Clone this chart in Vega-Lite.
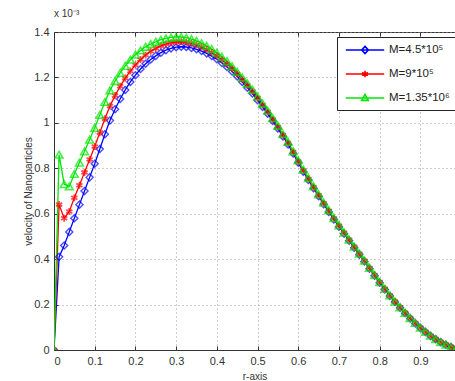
{
  "$schema": "https://vega.github.io/schema/vega-lite/v6.json",
  "width": 401,
  "height": 318,
  "autosize": {"type": "none"},
  "padding": {"left": 54, "top": 32, "right": 0, "bottom": 31},
  "background": "white",
  "config": {
    "view": {"stroke": "#333333", "strokeWidth": 1},
    "font": "Liberation Sans",
    "axis": {
      "labelFont": "Liberation Sans",
      "labelFontSize": 11,
      "labelColor": "#333333",
      "titleFont": "Liberation Sans",
      "titleFontSize": 10,
      "titleFontWeight": "normal",
      "titleColor": "#333333",
      "domainColor": "#333333",
      "tickColor": "#333333",
      "tickSize": -4,
      "gridColor": "#9a9a9a",
      "gridDash": [1, 3],
      "gridWidth": 1
    }
  },
  "title": {"text": "x 10⁻³", "anchor": "start", "frame": "group", "fontSize": 10, "fontWeight": "normal", "font": "Liberation Sans", "color": "#333333", "offset": 7},
  "data": {"values": [
    {"r": 0, "s1": 0, "s2": 0, "s3": 0},
    {"r": 0.0125, "s1": 0.41, "s2": 0.64, "s3": 0.86},
    {"r": 0.025, "s1": 0.46, "s2": 0.58, "s3": 0.73},
    {"r": 0.0375, "s1": 0.52, "s2": 0.61, "s3": 0.72},
    {"r": 0.05, "s1": 0.58, "s2": 0.67, "s3": 0.775},
    {"r": 0.0625, "s1": 0.64, "s2": 0.725, "s3": 0.825},
    {"r": 0.075, "s1": 0.70, "s2": 0.782, "s3": 0.875},
    {"r": 0.0875, "s1": 0.76, "s2": 0.839, "s3": 0.926},
    {"r": 0.1, "s1": 0.82, "s2": 0.896, "s3": 0.978},
    {"r": 0.1125, "s1": 0.885, "s2": 0.957, "s3": 1.035},
    {"r": 0.125, "s1": 0.95, "s2": 1.018, "s3": 1.092},
    {"r": 0.1375, "s1": 1.01, "s2": 1.074, "s3": 1.143},
    {"r": 0.15, "s1": 1.06, "s2": 1.12, "s3": 1.184},
    {"r": 0.1625, "s1": 1.105, "s2": 1.161, "s3": 1.22},
    {"r": 0.175, "s1": 1.145, "s2": 1.197, "s3": 1.251},
    {"r": 0.1875, "s1": 1.18, "s2": 1.228, "s3": 1.278},
    {"r": 0.2, "s1": 1.21, "s2": 1.255, "s3": 1.30},
    {"r": 0.2125, "s1": 1.237, "s2": 1.279, "s3": 1.319},
    {"r": 0.225, "s1": 1.26, "s2": 1.299, "s3": 1.335},
    {"r": 0.2375, "s1": 1.279, "s2": 1.315, "s3": 1.347},
    {"r": 0.25, "s1": 1.295, "s2": 1.328, "s3": 1.357},
    {"r": 0.2625, "s1": 1.309, "s2": 1.339, "s3": 1.366},
    {"r": 0.275, "s1": 1.32, "s2": 1.347, "s3": 1.372},
    {"r": 0.2875, "s1": 1.328, "s2": 1.353, "s3": 1.376},
    {"r": 0.3, "s1": 1.333, "s2": 1.356, "s3": 1.378},
    {"r": 0.3125, "s1": 1.335, "s2": 1.357, "s3": 1.378},
    {"r": 0.325, "s1": 1.334, "s2": 1.355, "s3": 1.375},
    {"r": 0.3375, "s1": 1.33, "s2": 1.35, "s3": 1.369},
    {"r": 0.35, "s1": 1.324, "s2": 1.343, "s3": 1.361},
    {"r": 0.3625, "s1": 1.316, "s2": 1.334, "s3": 1.351},
    {"r": 0.375, "s1": 1.306, "s2": 1.323, "s3": 1.339},
    {"r": 0.3875, "s1": 1.294, "s2": 1.31, "s3": 1.325},
    {"r": 0.4, "s1": 1.28, "s2": 1.295, "s3": 1.309},
    {"r": 0.4125, "s1": 1.264, "s2": 1.278, "s3": 1.291},
    {"r": 0.425, "s1": 1.246, "s2": 1.259, "s3": 1.271},
    {"r": 0.4375, "s1": 1.226, "s2": 1.238, "s3": 1.249},
    {"r": 0.45, "s1": 1.204, "s2": 1.215, "s3": 1.225},
    {"r": 0.4625, "s1": 1.18, "s2": 1.19, "s3": 1.2},
    {"r": 0.475, "s1": 1.155, "s2": 1.165, "s3": 1.173},
    {"r": 0.4875, "s1": 1.129, "s2": 1.138, "s3": 1.146},
    {"r": 0.5, "s1": 1.10, "s2": 1.109, "s3": 1.116},
    {"r": 0.5125, "s1": 1.07, "s2": 1.078, "s3": 1.085},
    {"r": 0.525, "s1": 1.04, "s2": 1.048, "s3": 1.054},
    {"r": 0.5375, "s1": 1.008, "s2": 1.015, "s3": 1.021},
    {"r": 0.55, "s1": 0.975, "s2": 0.982, "s3": 0.987},
    {"r": 0.5625, "s1": 0.94, "s2": 0.946, "s3": 0.951},
    {"r": 0.575, "s1": 0.905, "s2": 0.911, "s3": 0.916},
    {"r": 0.5875, "s1": 0.865, "s2": 0.871, "s3": 0.875},
    {"r": 0.6, "s1": 0.825, "s2": 0.83, "s3": 0.835},
    {"r": 0.6125, "s1": 0.785, "s2": 0.79, "s3": 0.794},
    {"r": 0.625, "s1": 0.748, "s2": 0.753, "s3": 0.757},
    {"r": 0.6375, "s1": 0.712, "s2": 0.717, "s3": 0.72},
    {"r": 0.65, "s1": 0.677, "s2": 0.681, "s3": 0.685},
    {"r": 0.6625, "s1": 0.642, "s2": 0.646, "s3": 0.649},
    {"r": 0.675, "s1": 0.608, "s2": 0.612, "s3": 0.615},
    {"r": 0.6875, "s1": 0.575, "s2": 0.579, "s3": 0.581},
    {"r": 0.7, "s1": 0.543, "s2": 0.547, "s3": 0.549},
    {"r": 0.7125, "s1": 0.512, "s2": 0.516, "s3": 0.517},
    {"r": 0.725, "s1": 0.481, "s2": 0.485, "s3": 0.486},
    {"r": 0.7375, "s1": 0.45, "s2": 0.454, "s3": 0.455},
    {"r": 0.75, "s1": 0.42, "s2": 0.423, "s3": 0.424},
    {"r": 0.7625, "s1": 0.39, "s2": 0.393, "s3": 0.394},
    {"r": 0.775, "s1": 0.358, "s2": 0.361, "s3": 0.362},
    {"r": 0.7875, "s1": 0.327, "s2": 0.33, "s3": 0.33},
    {"r": 0.8, "s1": 0.296, "s2": 0.299, "s3": 0.299},
    {"r": 0.8125, "s1": 0.266, "s2": 0.269, "s3": 0.269},
    {"r": 0.825, "s1": 0.238, "s2": 0.24, "s3": 0.241},
    {"r": 0.8375, "s1": 0.211, "s2": 0.213, "s3": 0.213},
    {"r": 0.85, "s1": 0.186, "s2": 0.188, "s3": 0.188},
    {"r": 0.8625, "s1": 0.162, "s2": 0.164, "s3": 0.164},
    {"r": 0.875, "s1": 0.139, "s2": 0.141, "s3": 0.141},
    {"r": 0.8875, "s1": 0.117, "s2": 0.119, "s3": 0.119},
    {"r": 0.9, "s1": 0.097, "s2": 0.099, "s3": 0.099},
    {"r": 0.9125, "s1": 0.079, "s2": 0.08, "s3": 0.08},
    {"r": 0.925, "s1": 0.062, "s2": 0.063, "s3": 0.063},
    {"r": 0.9375, "s1": 0.047, "s2": 0.048, "s3": 0.048},
    {"r": 0.95, "s1": 0.034, "s2": 0.035, "s3": 0.035},
    {"r": 0.9625, "s1": 0.023, "s2": 0.024, "s3": 0.024},
    {"r": 0.975, "s1": 0.013, "s2": 0.014, "s3": 0.014},
    {"r": 0.9875, "s1": 0.005, "s2": 0.006, "s3": 0.006},
    {"r": 1, "s1": 0, "s2": 0, "s3": 0}
  ]},
  "transform": [{"fold": ["s1", "s2", "s3"], "as": ["key", "v"]}],
  "encoding": {
    "y": {"field": "v", "type": "quantitative", "scale": {"domain": [0, 1.4], "nice": false, "zero": false},
      "axis": {"values": [0, 0.2, 0.4, 0.6, 0.8, 1, 1.2, 1.4], "format": ".1~f", "labelPadding": 9, "titlePadding": 0, "grid": true},
      "title": "velocity of  Nanoparticles"},
    "color": {"field": "key", "type": "nominal", "scale": {"domain": ["s1", "s2", "s3"], "range": ["#0000ff", "#ff0000", "#00e600"]},
      "legend": {"title": null, "orient": "none", "legendX": 283, "legendY": 5, "strokeColor": "#222222", "fillColor": "white", "padding": 6,
        "symbolSize": 144, "symbolStrokeWidth": 1.6, "symbolOpacity": 1, "symbolOffset": 15, "labelOffset": 17, "rowPadding": 10,
        "labelFont": "Liberation Sans", "labelFontSize": 11.5, "labelColor": "#222222",
        "labelExpr": "datum.label == 's1' ? 'M=4.5*10⁵' : datum.label == 's2' ? 'M=9*10⁵' : 'M=1.35*10⁶'"}}
  },
  "resolve": {"axis": {"x": "independent"}},
  "layer": [
    {
      "mark": {"type": "line", "strokeWidth": 1.3, "clip": true},
      "encoding": {
        "x": {"field": "r", "type": "quantitative", "scale": {"domain": [0, 0.985], "nice": false, "zero": false},
          "axis": {"values": [0, 0.1, 0.2, 0.3, 0.4, 0.5, 0.6, 0.7, 0.8, 0.9], "format": ".1~f", "labelPadding": 9, "titlePadding": 5, "grid": true},
          "title": "r-axis"}
      }
    },
    {
      "transform": [{"filter": "datum.key === 's1'"}],
      "mark": {"type": "point", "shape": "diamond", "filled": false, "size": 50, "strokeWidth": 1.4, "clip": true},
      "encoding": {"x": {"field": "r", "type": "quantitative", "axis": null}}
    },
    {
      "transform": [{"filter": "datum.key === 's2'"}],
      "mark": {"type": "point", "shape": "M0,-1L0,1M-0.87,-0.5L0.87,0.5M-0.87,0.5L0.87,-0.5", "filled": false, "size": 50, "strokeWidth": 1.8, "clip": true},
      "encoding": {"x": {"field": "r", "type": "quantitative", "axis": null}}
    },
    {
      "transform": [{"filter": "datum.key === 's3'"}],
      "mark": {"type": "point", "shape": "triangle-up", "filled": false, "size": 60, "strokeWidth": 1.6, "clip": true},
      "encoding": {"x": {"field": "r", "type": "quantitative", "axis": null}}
    },
    {
      "mark": {"type": "point", "opacity": 0, "filled": false},
      "encoding": {
        "x": {"field": "r", "type": "quantitative",
          "axis": {"orient": "top", "values": [0, 0.1, 0.2, 0.3, 0.4, 0.5, 0.6, 0.7, 0.8, 0.9], "labels": false, "grid": false, "domain": false, "title": null}},
        "shape": {"field": "key", "type": "nominal",
          "scale": {"domain": ["s1", "s2", "s3"], "range": [
            "M-3.2,0L3.2,0M0,-0.6L0.55,0L0,0.6L-0.55,0Z",
            "M-3.2,0L3.2,0M0,-0.55L0,0.55M-0.48,-0.28L0.48,0.28M-0.48,0.28L0.48,-0.28",
            "M-3.2,0L3.2,0M0,-0.6L0.55,0.4L-0.55,0.4Z"]},
          "legend": {"title": null, "orient": "none", "legendX": 283, "legendY": 5, "strokeColor": "#222222", "fillColor": "white", "padding": 6,
            "symbolSize": 144, "symbolStrokeWidth": 1.6, "symbolOpacity": 1, "symbolOffset": 15, "labelOffset": 17, "rowPadding": 10,
            "labelFont": "Liberation Sans", "labelFontSize": 11.5, "labelColor": "#222222",
            "labelExpr": "datum.label == 's1' ? 'M=4.5*10⁵' : datum.label == 's2' ? 'M=9*10⁵' : 'M=1.35*10⁶'"}}
      }
    }
  ]
}
